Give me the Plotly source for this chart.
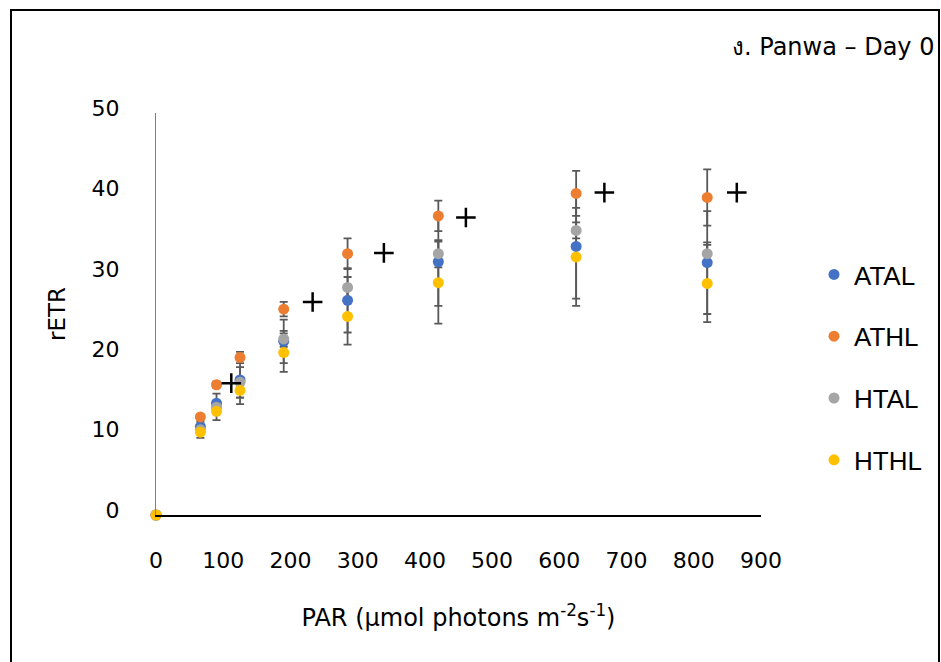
import plotly.graph_objects as go

# ---- data ----
par = [0, 66, 90, 125, 190, 285, 420, 625, 820]
series_names = ["ATAL", "ATHL", "HTAL", "HTHL"]
atal = [0, 11.0, 13.9, 16.8, 21.6, 26.7, 31.5, 33.4, 31.4]
atal_err = [0, 0.6, 1.2, 3.0, 2.7, 4.0, 5.5, 6.5, 6.4]
athl = [0, 12.2, 16.2, 19.6, 25.6, 32.5, 37.2, 40.0, 39.5]
athl_err = [0, 0.3, 0.4, 0.7, 0.9, 1.9, 1.9, 2.8, 3.5]
htal = [0, 10.6, 13.4, 16.5, 21.9, 28.3, 32.5, 35.4, 32.5]
htal_err = [0, 0.5, 0.8, 1.9, 1.0, 1.3, 1.7, 1.0, 1.4]
hthl = [0, 10.3, 12.9, 15.5, 20.2, 24.7, 28.9, 32.1, 28.8]
hthl_err = [0, 0.7, 1.1, 0.9, 2.4, 3.5, 5.1, 6.1, 4.8]
colors = ["#4472C4", "#ED7D31", "#A5A5A5", "#FFC000"]

cross_x = [112, 233, 339, 461, 667, 864]
cross_y = [16.4, 26.5, 32.6, 37.0, 40.1, 40.1]

x_ticks = [0, 100, 200, 300, 400, 500, 600, 700, 800, 900]
y_ticks = [0, 10, 20, 30, 40, 50]

title_text = "ง. Panwa – Day 0"
x_title = "PAR (µmol photons m<sup>-2</sup>s<sup>-1</sup>)"
y_title = "rETR"

values = [atal, athl, htal, hthl]
errors = [atal_err, athl_err, htal_err, hthl_err]

FONT = "DejaVu Sans, Noto Sans, sans-serif"

fig = go.Figure()

# error bars first (beneath all markers)
for name, v, e in zip(series_names, values, errors):
    fig.add_trace(go.Scatter(
        x=par[1:], y=v[1:], mode="markers",
        marker=dict(color="rgba(0,0,0,0)", size=2),
        error_y=dict(type="data", array=e[1:], visible=True,
                     color="#595959", thickness=1.8, width=4),
        showlegend=False, hoverinfo="skip", cliponaxis=False,
    ))

for i, (name, v, c) in enumerate(zip(series_names, values, colors)):
    fig.add_trace(go.Scatter(
        x=par, y=v, mode="markers", name=name,
        marker=dict(color=c, size=11),
        legendgroup=name, cliponaxis=False,
    ))

fig.add_trace(go.Scatter(
    x=cross_x, y=cross_y, mode="markers",
    marker=dict(symbol="cross-thin", size=14, line=dict(color="black", width=2.5)),
    showlegend=False, cliponaxis=False,
))

# frame
L, R, T, B = 156, 180, 113, 147
PW, PH = 941 - L - R, 662 - T - B
def px2x(px):
    return (px - L) / PW
def py2y(py):
    return (662 - B - py) / PH

fig.add_shape(type="rect", xref="paper", yref="paper",
              x0=px2x(11), x1=px2x(939), y0=py2y(680), y1=py2y(10),
              line=dict(color="black", width=2), layer="above")

fig.add_annotation(text=title_text, xref="paper", yref="paper",
                   x=px2x(936), y=py2y(47), xanchor="right", yanchor="middle",
                   showarrow=False, font=dict(family=FONT, size=24, color="black"))

fig.update_layout(
    width=941, height=662,
    margin=dict(l=L, r=R, t=T, b=B),
    paper_bgcolor="white", plot_bgcolor="white",
    font=dict(family=FONT, size=22, color="black"),
    showlegend=True,
    legend=dict(x=px2x(814), y=py2y(251), xanchor="left", yanchor="top",
                font=dict(family="Liberation Sans, Arial, sans-serif", size=26),
                tracegroupgap=25, traceorder="grouped", bgcolor="rgba(0,0,0,0)"),
)
fig.update_xaxes(range=[0, 900], tickvals=x_ticks, showgrid=False, zeroline=False,
                 showline=True, linecolor="black", linewidth=2,
                 ticks="", ticklabelstandoff=25,
                 title=dict(text=x_title, standoff=37, font=dict(size=24)))
fig.update_yaxes(range=[0, 50], tickvals=y_ticks, showgrid=False, zeroline=False,
                 showline=True, linecolor="#7f7f7f", linewidth=1,
                 ticks="", ticklabelstandoff=31, ticklabelshift=-5,
                 title=dict(text=y_title, standoff=19, font=dict(size=23)))

fig.write_html("out.html")
